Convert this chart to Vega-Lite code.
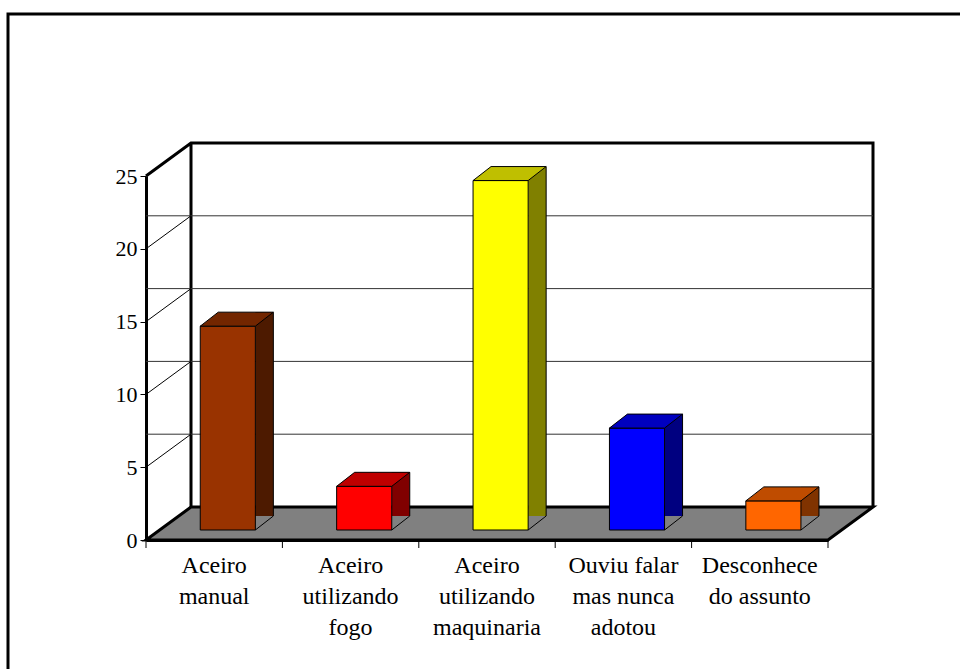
{
  "$schema": "https://vega.github.io/schema/vega-lite/v6.json",
  "width": 682,
  "height": 364,
  "autosize": {"type": "none"},
  "padding": {"left": 146, "top": 176, "right": 132, "bottom": 129},
  "background": "white",
  "config": {"view": {"stroke": null}, "font": "Liberation Serif"},
  "datasets": {
    "bars": [
      {"cat": "Aceiro manual", "value": 14},
      {"cat": "Aceiro utilizando fogo", "value": 3},
      {"cat": "Aceiro utilizando maquinaria", "value": 24},
      {"cat": "Ouviu falar mas nunca adotou", "value": 7},
      {"cat": "Desconhece do assunto", "value": 2}
    ],
    "ticks": [{"v": 5}, {"v": 10}, {"v": 15}, {"v": 20}],
    "base": [{"v": 0}]
  },
  "resolve": {"scale": {"fill": "independent"}},
  "layer": [
    {
      "data": {"name": "base"},
      "mark": {"type": "point", "shape": "M -341 0 L 341 0 L 386 -33 L -296 -33 Z", "size": 4, "filled": true, "opacity": 1, "fill": "#808080", "stroke": "black", "strokeWidth": 3},
      "encoding": {"y": {"field": "v", "type": "quantitative"}}
    },
    {
      "data": {"name": "base"},
      "mark": {"type": "point", "shape": "M -341 -364 L -296 -397 L 386 -397 L 386 -33 M -296 -33 L -296 -397 M -479 300 L -479 -526 L 520 -526", "size": 4, "filled": false, "opacity": 1, "stroke": "black", "strokeWidth": 3},
      "encoding": {"y": {"field": "v", "type": "quantitative"}}
    },
    {
      "data": {"name": "base"},
      "mark": {"type": "point", "shape": "M -341 0 L -341 8 M -204.6 0 L -204.6 8 M -68.2 0 L -68.2 8 M 68.2 0 L 68.2 8 M 204.6 0 L 204.6 8 M 341 0 L 341 8", "size": 4, "filled": false, "opacity": 1, "stroke": "black", "strokeWidth": 1},
      "encoding": {"y": {"field": "v", "type": "quantitative"}}
    },
    {
      "data": {"name": "ticks"},
      "mark": {"type": "rule", "xOffset": 45, "x2Offset": 45, "yOffset": -33, "stroke": "#333333", "strokeWidth": 1},
      "encoding": {"y": {"field": "v", "type": "quantitative"}}
    },
    {
      "data": {"name": "ticks"},
      "mark": {"type": "point", "shape": "M -341 0 L -296 -33", "size": 4, "filled": false, "opacity": 1, "stroke": "black", "strokeWidth": 1},
      "encoding": {"y": {"field": "v", "type": "quantitative"}}
    },
    {
      "data": {"name": "bars"},
      "mark": {"type": "bar", "width": 18, "xOffset": 50.15, "yOffset": -24, "y2Offset": -10, "opacity": 1},
      "encoding": {
        "x": {"field": "cat", "type": "nominal", "sort": null},
        "y": {"field": "value", "type": "quantitative"},
        "fill": {"field": "cat", "type": "nominal", "sort": null, "legend": null,
          "scale": {"domain": ["Aceiro manual", "Aceiro utilizando fogo", "Aceiro utilizando maquinaria", "Ouviu falar mas nunca adotou", "Desconhece do assunto"],
                    "range": ["#4D1A00", "#800000", "#808000", "#000080", "#803300"]}}
      }
    },
    {
      "data": {"name": "bars"},
      "mark": {"type": "point", "shape": "M 41.15 -9.5 L 60.5 -9.5 L 60.5 -24.5 Z", "size": 4, "filled": true, "opacity": 1, "fill": "#808080", "strokeWidth": 0},
      "encoding": {
        "x": {"field": "cat", "type": "nominal", "sort": null},
        "y": {"datum": 0, "type": "quantitative"}
      }
    },
    {
      "data": {"name": "bars"},
      "mark": {"type": "bar", "xOffset": 13.6, "yOffset": -10, "y2Offset": -10, "stroke": "black", "strokeWidth": 1, "opacity": 1},
      "encoding": {
        "x": {"field": "cat", "type": "nominal", "sort": null,
          "scale": {"paddingInner": 0.596, "paddingOuter": 0.298},
          "axis": {"title": null, "labelAngle": 0, "labelAlign": "center", "ticks": false, "domainColor": "black", "domainWidth": 3,
                   "labelFont": "Liberation Serif", "labelFontSize": 24, "labelColor": "black", "labelPadding": 13, "labelLineHeight": 31, "labelBaseline": "top",
                   "labelExpr": "datum.value == 'Aceiro manual' ? ['Aceiro','manual'] : datum.value == 'Aceiro utilizando fogo' ? ['Aceiro','utilizando','fogo'] : datum.value == 'Aceiro utilizando maquinaria' ? ['Aceiro','utilizando','maquinaria'] : datum.value == 'Ouviu falar mas nunca adotou' ? ['Ouviu falar','mas nunca','adotou'] : ['Desconhece','do assunto']"}},
        "y": {"field": "value", "type": "quantitative",
          "scale": {"domain": [0, 25], "nice": false},
          "axis": {"title": null, "values": [0, 5, 10, 15, 20, 25], "grid": false, "tickSize": 6, "tickColor": "black", "domainColor": "black", "domainWidth": 3,
                   "labelFont": "Liberation Serif", "labelFontSize": 22, "labelColor": "black", "labelPadding": 3}},
        "fill": {"field": "cat", "type": "nominal", "sort": null, "legend": null,
          "scale": {"domain": ["Aceiro manual", "Aceiro utilizando fogo", "Aceiro utilizando maquinaria", "Ouviu falar mas nunca adotou", "Desconhece do assunto"],
                    "range": ["#993300", "#FF0000", "#FFFF00", "#0000FF", "#FF6600"]}}
      }
    },
    {
      "data": {"name": "bars"},
      "mark": {"type": "point", "shape": "M -13.95 -10 L 41.15 -10 L 59.15 -24 L 4.05 -24 Z", "size": 4, "filled": true, "opacity": 1, "stroke": "black", "strokeWidth": 1},
      "encoding": {
        "x": {"field": "cat", "type": "nominal", "sort": null},
        "y": {"field": "value", "type": "quantitative"},
        "fill": {"field": "cat", "type": "nominal", "sort": null, "legend": null,
          "scale": {"domain": ["Aceiro manual", "Aceiro utilizando fogo", "Aceiro utilizando maquinaria", "Ouviu falar mas nunca adotou", "Desconhece do assunto"],
                    "range": ["#732600", "#BF0000", "#BFBF00", "#0000BF", "#BF4C00"]}}
      }
    },
    {
      "data": {"name": "bars"},
      "mark": {"type": "rule", "xOffset": 59.15, "yOffset": -24, "y2Offset": -24, "stroke": "black", "strokeWidth": 1},
      "encoding": {
        "x": {"field": "cat", "type": "nominal", "sort": null},
        "y": {"field": "value", "type": "quantitative"},
        "y2": {"datum": 0}
      }
    },
    {
      "data": {"name": "bars"},
      "mark": {"type": "point", "shape": "M 41.15 -10 L 59.15 -24", "size": 4, "filled": false, "opacity": 1, "stroke": "black", "strokeWidth": 1},
      "encoding": {
        "x": {"field": "cat", "type": "nominal", "sort": null},
        "y": {"datum": 0, "type": "quantitative"}
      }
    }
  ]
}
